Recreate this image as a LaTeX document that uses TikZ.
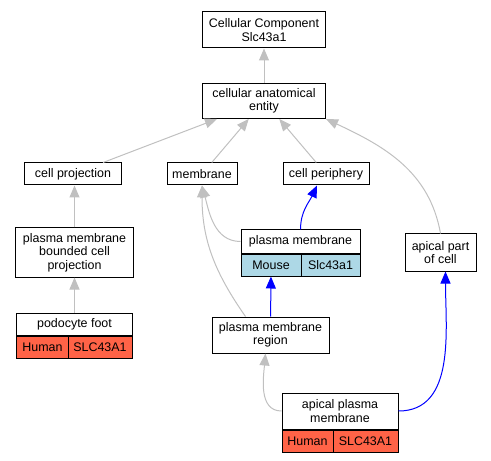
\documentclass[tikz,border=0pt]{standalone}
\usepackage{fontspec}
\setmainfont{Liberation Sans}
\usetikzlibrary{arrows.meta,positioning}

\definecolor{isagray}{RGB}{192,192,192}
\definecolor{mouseblue}{RGB}{173,216,230}
\definecolor{humanred}{RGB}{255,99,71}

\begin{document}
\begin{tikzpicture}[x=1bp, y=-1bp,
  term/.style={draw=black, line width=1bp, fill=white, inner sep=0pt, align=center,
    font=\fontsize{12.5}{13.5}\selectfont},
  cell/.style={term, minimum height=22bp},
  isa/.style={draw=isagray, line width=1bp, -{Triangle[length=12bp,width=10bp]}},
  orth/.style={draw=blue, line width=1bp, -{Triangle[length=12bp,width=10bp]}}]

\useasboundingbox (0,0) rectangle (491,461);

% Upper terms
\node[term, minimum width=123bp, minimum height=36bp] (cc)  at (264,30)  {Cellular Component\\Slc43a1};
\node[term, minimum width=123bp, minimum height=35bp] (cae) at (264,101) {cellular anatomical\\entity};
\node[cell, minimum width=96bp]  (cp)   at (73,174)  {cell projection};
\node[cell, minimum width=70bp]  (mem)  at (202,174) {membrane};
\node[cell, minimum width=86bp]  (cper) at (326,174) {cell periphery};

% Middle terms
\node[term, minimum width=117bp, minimum height=49bp] (pmbcp) at (74.5,252.5) {plasma membrane\\bounded cell\\projection};
\node[term, minimum width=71bp, minimum height=37bp]  (apc)   at (440.5,252.5) {apical part\\of cell};
\node[term, minimum width=117bp, minimum height=36bp] (pmr)   at (270.5,335) {plasma membrane\\region};

% plasma membrane (Mouse)
\node[cell, minimum width=119bp, minimum height=23bp] (pmh) at (300.5,241.5) {plasma membrane};
\node[cell, fill=mouseblue, minimum width=60bp, anchor=north west] (pmsp) at (pmh.south west) {Mouse};
\node[cell, fill=mouseblue, minimum width=59bp, anchor=north east] (pmgn) at (pmh.south east) {Slc43a1};

% podocyte foot (Human)
\node[cell, minimum width=115bp] (pfh) at (74.5,324) {podocyte foot};
\node[cell, fill=humanred, minimum width=51bp, anchor=north west] (pfsp) at (pfh.south west) {Human};
\node[cell, fill=humanred, minimum width=64bp, anchor=north east] (pfgn) at (pfh.south east) {SLC43A1};

% apical plasma membrane (Human)
\node[term, minimum width=116bp, minimum height=36bp] (apmh) at (340,411) {apical plasma\\membrane};
\node[cell, fill=humanred, minimum width=51bp, anchor=north west] (apmsp) at (apmh.south west) {Human};
\node[cell, fill=humanred, minimum width=65bp, anchor=north east] (apmgn) at (apmh.south east) {SLC43A1};

% is_a edges
\draw[isa] (cae) -- (cc);
\draw[isa] (cp) -- (cae);
\draw[isa] (mem) -- (cae);
\draw[isa] (cper) -- (cae);
\draw[isa] (apc.north) to[out=100, in=-25] (cae.south east);
\draw[isa] (pmbcp) -- (pmbcp |- cp.south);
\draw[isa] (pfh) -- (pmbcp);
\draw[isa] (pmh.west) to[out=180, in=-75] (mem.south);
\draw[isa] ([xshift=-25bp]pmr.north) to[out=125, in=-90] (mem.south);
\draw[isa] (apmh.west) to[out=180, in=-95] ([xshift=-5bp]pmr.south);

% orthology edges
\draw[orth] (pmh.north) to[out=90, in=-115] ([xshift=-9bp]cper.south);
\draw[orth] (pmr) -- (pmsp);
\draw[orth] (apmh.east) to[out=0, in=-90] ([xshift=5bp]apc.south);

\end{tikzpicture}
\end{document}
